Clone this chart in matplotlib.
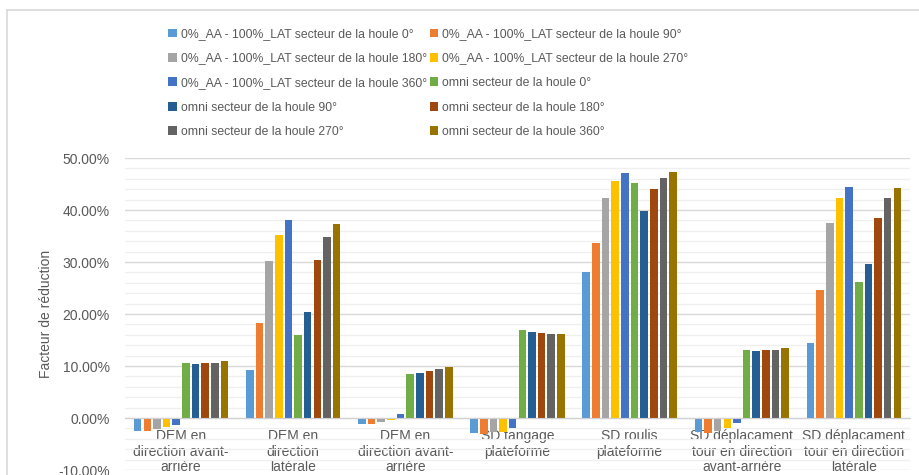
import matplotlib.pyplot as plt
from matplotlib.lines import Line2D
from matplotlib.patches import Patch
from matplotlib.ticker import MultipleLocator, FuncFormatter
import numpy as np

plt.rcParams['font.family'] = ['Liberation Sans', 'DejaVu Sans']

# catégories (axe x)
categories = [
    "DEM en\ndirection avant-\narrière",
    "DEM en\ndirection\nlatérale",
    "DEM en\ndirection avant-\narrière",
    "SD tangage\nplateforme",
    "SD roulis\nplateforme",
    "SD déplacament\ntour en direction\navant-arrière",
    "SD déplacament\ntour en direction\nlatérale",
]

series_names = [
    "0%_AA - 100%_LAT secteur de la houle 0°",
    "0%_AA - 100%_LAT secteur de la houle 90°",
    "0%_AA - 100%_LAT secteur de la houle 180°",
    "0%_AA - 100%_LAT secteur de la houle 270°",
    "0%_AA - 100%_LAT secteur de la houle 360°",
    "omni secteur de la houle 0°",
    "omni secteur de la houle 90°",
    "omni secteur de la houle 180°",
    "omni secteur de la houle 270°",
    "omni secteur de la houle 360°",
]

# valeurs en %
lat_0 = [-2.5, 9.2, -1.2, -2.8, 28.1, -2.6, 14.5]
lat_90 = [-2.5, 18.2, -1.2, -3.0, 33.6, -2.8, 24.7]
lat_180 = [-2.2, 30.1, -0.8, -2.6, 42.3, -2.5, 37.5]
lat_270 = [-1.8, 35.2, -0.4, -2.6, 45.6, -2.0, 42.3]
lat_360 = [-1.3, 38.0, 0.8, -2.0, 47.1, -1.0, 44.5]
omni_0 = [10.5, 16.0, 8.5, 16.9, 45.2, 13.1, 26.1]
omni_90 = [10.4, 20.3, 8.6, 16.6, 39.9, 12.8, 29.7]
omni_180 = [10.5, 30.3, 9.1, 16.4, 44.0, 13.0, 38.5]
omni_270 = [10.6, 34.9, 9.4, 16.2, 46.1, 13.1, 42.3]
omni_360 = [11.0, 37.3, 9.9, 16.2, 47.4, 13.5, 44.2]

all_series = [lat_0, lat_90, lat_180, lat_270, lat_360,
              omni_0, omni_90, omni_180, omni_270, omni_360]

colors = ['#5B9BD5', '#ED7D31', '#A5A5A5', '#FFC000', '#4472C4',
          '#70AD47', '#255E91', '#9E480E', '#636363', '#997300']

txt_color = '#595959'

fig = plt.figure(figsize=(9.19, 4.75), dpi=100)
W, H = 919, 475
ax = fig.add_axes([125 / W, 1 - 470 / H, (910 - 125) / W, (470 - 158) / H])

x = np.arange(len(categories))
slot = 0.86 / len(all_series)
for i, (vals, col) in enumerate(zip(all_series, colors)):
    offs = (i - (len(all_series) - 1) / 2) * slot
    ax.bar(x + offs, vals, slot * 0.78, color=col, zorder=3)

ax.set_xlim(-0.5, len(categories) - 0.5)
ax.set_ylim(-10, 50)
ax.yaxis.set_major_locator(MultipleLocator(10))
ax.yaxis.set_minor_locator(MultipleLocator(2))
ax.yaxis.set_major_formatter(FuncFormatter(lambda v, p: f"{v:.2f}%"))
ax.grid(axis='y', which='major', color='#D9D9D9', linewidth=1.0, zorder=0)
ax.grid(axis='y', which='minor', color='#EFEFEF', linewidth=0.9, zorder=0)

for s in ['top', 'right', 'left']:
    ax.spines[s].set_visible(False)
ax.spines['bottom'].set_position(('data', 0))
ax.spines['bottom'].set_color('#D0D0D0')
ax.spines['bottom'].set_zorder(4)

ax.set_xticks(x)
ax.set_xticklabels(categories, fontsize=10, color=txt_color, linespacing=1.15)
ax.tick_params(axis='x', length=0, pad=8)
ax.tick_params(axis='y', which='both', length=0, pad=11, labelsize=10, labelcolor=txt_color)
ax.set_ylabel("Facteur de réduction", fontsize=10, color=txt_color, labelpad=4)

# légende sur deux colonnes, remplie ligne par ligne comme Excel
order = [0, 2, 4, 6, 8, 1, 3, 5, 7, 9]
handles = [Patch(facecolor=colors[k], edgecolor='none') for k in order]
labels = [series_names[k] for k in order]
fig.legend(handles, labels, ncol=2, loc='upper left',
           bbox_to_anchor=(162 / W, 1 - 22 / H), frameon=False,
           fontsize=8.8, labelcolor=txt_color, handlelength=0.7, handleheight=0.7,
           handletextpad=0.35, columnspacing=0.2, labelspacing=1.02, borderpad=0)

# bordure du graphique
fig.add_artist(Line2D([7 / W, 7 / W], [0, 1 - 10 / H], color='#D9D9D9', linewidth=1.2))
fig.add_artist(Line2D([7 / W, 1], [1 - 10 / H, 1 - 10 / H], color='#D9D9D9', linewidth=1.2))

fig.savefig('out.png', dpi=100)
